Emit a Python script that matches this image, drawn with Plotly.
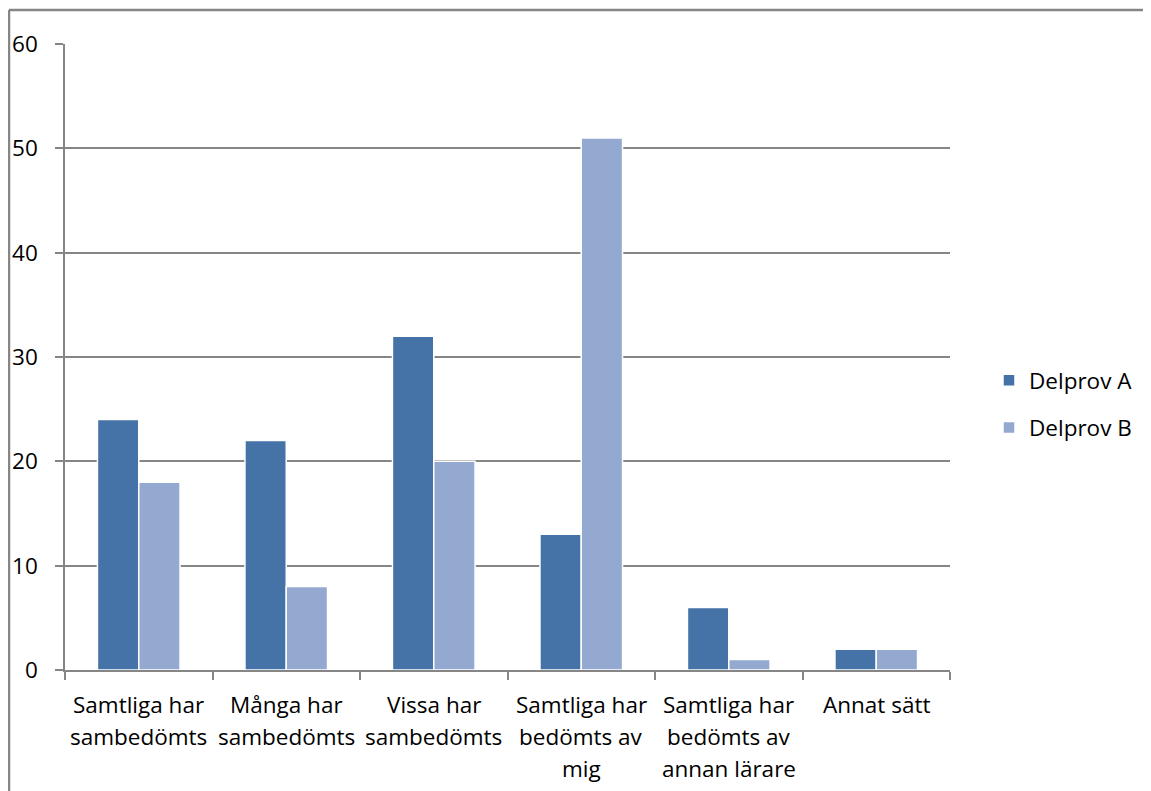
import plotly.graph_objects as go

categories = ["Samtliga har sambedömts", "Många har sambedömts", "Vissa har sambedömts",
              "Samtliga har bedömts av mig", "Samtliga har bedömts av annan lärare", "Annat sätt"]
label_lines = [["Samtliga har", "sambedömts"], ["Många har", "sambedömts"], ["Vissa har", "sambedömts"],
               ["Samtliga har", "bedömts av", "mig"], ["Samtliga har", "bedömts av", "annan lärare"],
               ["Annat sätt"]]
delprov_a = [24, 22, 32, 13, 6, 2]
delprov_b = [18, 8, 20, 51, 1, 2]
y_ticks = [0, 10, 20, 30, 40, 50, 60]

# page body has an 8px margin, so the figure is shifted by 8px
W, H = 1143, 783
L, T = 57, 36
pw, ph = 885, 626
R, B = W - L - pw, H - T - ph

font = "'Open Sans', 'Noto Sans', sans-serif"
grey = "#868686"
fs = 22.5

fig = go.Figure()
fig.add_trace(go.Bar(name="Delprov A", x=categories, y=delprov_a, legendgroup="a",
                     marker=dict(color="#4572A7", line=dict(color="white", width=1.5))))
fig.add_trace(go.Bar(name="Delprov B", x=categories, y=delprov_b, legendgroup="b",
                     marker=dict(color="#94A9D0", line=dict(color="white", width=1.5))))

annotations = []
for cat, lines in zip(categories, label_lines):
    for i, line in enumerate(lines):
        annotations.append(dict(x=cat, xref="x", y=0, yref="paper", text=line,
                                showarrow=False, xanchor="center", yanchor="middle",
                                yshift=-34 - 32 * i, font=dict(size=fs, family=font, color="black")))

fig.update_layout(
    width=W, height=H,
    margin=dict(l=L, r=R, t=T, b=B, pad=0, autoexpand=False),
    paper_bgcolor="white", plot_bgcolor="white",
    barmode="group", bargap=0.44, bargroupgap=0.0,
    font=dict(family=font, size=fs, color="black"),
    legend=dict(x=(981 - L) / pw, y=(662 - 351) / ph, xanchor="left", yanchor="top",
                font=dict(size=fs), itemwidth=30, traceorder="grouped", tracegroupgap=15,
                bgcolor="rgba(0,0,0,0)"),
    xaxis=dict(showgrid=False, showline=True, linecolor=grey, linewidth=1.5,
               ticks="outside", ticklen=8, tickcolor=grey, tickwidth=1.5, automargin=False,
               tickson="boundaries", showticklabels=False, fixedrange=True),
    yaxis=dict(range=[0, 60], tickvals=y_ticks, showgrid=True, gridcolor=grey, gridwidth=1.5,
               showline=True, linecolor=grey, linewidth=1.5, automargin=False,
               ticks="outside", ticklen=8, tickcolor=grey, tickwidth=1.5,
               ticklabelstandoff=13, tickfont=dict(size=fs), zeroline=False),
    annotations=annotations,
    shapes=[
        dict(type="line", xref="paper", yref="paper",
             x0=(1 - L) / pw, x1=(W + 20 - L) / pw, y0=(662 - 2) / ph, y1=(662 - 2) / ph,
             line=dict(color=grey, width=2.5), layer="below"),
        dict(type="line", xref="paper", yref="paper",
             x0=(1 - L) / pw, x1=(1 - L) / pw, y0=(662 - 2) / ph, y1=(662 - H - 20) / ph,
             line=dict(color=grey, width=2.5), layer="below"),
    ],
)

fig.write_html("out.html")
